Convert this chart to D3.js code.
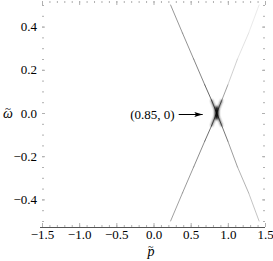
<!DOCTYPE html>
<html>
<head>
<meta charset="utf-8">
<script src="https://cdn.jsdelivr.net/npm/d3@7"></script>
<style>
  html, body { margin: 0; padding: 0; background: #fff; }
  svg { display: block; }
  text { font-family: "Liberation Serif", "Times New Roman", Times, serif; }
</style>
</head>
<body>
<div id="chart"></div>
<script>
// tick labels
var xTicks = [-1.5, -1.0, -0.5, 0.0, 0.5, 1.0, 1.5];
var yTicks = [-0.4, -0.2, 0.0, 0.2, 0.4];

// branches of the spectrum: [p, omega, weight]
var branchDown = [
  [0.23, 0.5, 0.5], [0.39, 0.37, 0.52], [0.54, 0.25, 0.55], [0.69, 0.13, 0.65],
  [0.78, 0.06, 0.85], [0.85, 0.0, 1.0], [0.92, -0.06, 0.8], [1.0, -0.13, 0.55],
  [1.13, -0.25, 0.42], [1.28, -0.37, 0.33], [1.42, -0.5, 0.25]
];
var branchUp = [
  [0.23, -0.5, 0.45], [0.39, -0.37, 0.48], [0.54, -0.25, 0.52], [0.69, -0.13, 0.62],
  [0.78, -0.06, 0.8], [0.85, 0.0, 1.0], [0.92, 0.06, 0.65], [1.0, 0.13, 0.3],
  [1.13, 0.25, 0.17], [1.28, 0.37, 0.12], [1.42, 0.5, 0.09]
];
var crossing = { p: 0.85, w: 0.0, label: "(0.85, 0)" };

var width = 273, height = 261;
var x = d3.scaleLinear().domain([-1.5, 1.5]).range([42, 265]);
var y = d3.scaleLinear().domain([-0.5, 0.5]).range([221, 5]);
var frameTop = 1, frameBottom = 227;
var serif = "'Liberation Serif', 'Times New Roman', Times, serif";

var svg = d3.select("#chart").append("svg")
  .attr("width", width)
  .attr("height", height);

var defs = svg.append("defs");
defs.append("filter").attr("id", "blur")
  .attr("x", "-100%").attr("y", "-100%").attr("width", "300%").attr("height", "300%")
  .append("feGaussianBlur").attr("stdDeviation", 0.9);
defs.append("marker").attr("id", "head")
  .attr("viewBox", "0 0 10 6").attr("refX", 10).attr("refY", 3)
  .attr("markerWidth", 9).attr("markerHeight", 5)
  .attr("markerUnits", "userSpaceOnUse").attr("orient", "auto")
  .append("path").attr("d", "M0,0L10,3L0,6L2,3Z").attr("fill", "#000");

// frame ticks
var fmt = d3.format(".1f");
var xMinor = d3.range(-15, 16).map(function(d) { return d / 10; });
var yMinor = d3.range(-10, 11).map(function(d) { return d / 20; });

function styleAxis(g) {
  g.attr("font-family", serif).attr("font-size", 13);
  g.select(".domain").remove();
  g.selectAll(".tick line").attr("stroke", "#b0b0b0");
  g.selectAll(".tick text").attr("fill", "#000")
    .style("font-family", serif).style("font-size", "13px");
}

svg.append("g").attr("transform", "translate(0," + frameBottom + ")")
  .call(d3.axisBottom(x).tickValues(xMinor).tickSize(-2).tickFormat(""))
  .call(styleAxis);
svg.append("g").attr("transform", "translate(0," + frameBottom + ")")
  .call(d3.axisBottom(x).tickValues(xTicks).tickSize(-4).tickPadding(3).tickFormat(fmt))
  .call(styleAxis);
svg.append("g").attr("transform", "translate(0," + frameTop + ")")
  .call(d3.axisTop(x).tickValues(xMinor).tickSize(-2).tickFormat(""))
  .call(styleAxis);
svg.append("g").attr("transform", "translate(0," + frameTop + ")")
  .call(d3.axisTop(x).tickValues(xTicks).tickSize(-4).tickFormat(""))
  .call(styleAxis);

svg.append("g").attr("transform", "translate(" + x(-1.5) + ",0)")
  .call(d3.axisLeft(y).tickValues(yMinor).tickSize(-2).tickFormat(""))
  .call(styleAxis);
svg.append("g").attr("transform", "translate(" + x(-1.5) + ",0)")
  .call(d3.axisLeft(y).tickValues(yTicks).tickSize(-3).tickPadding(5).tickFormat(fmt))
  .call(styleAxis);
svg.append("g").attr("transform", "translate(" + x(1.5) + ",0)")
  .call(d3.axisRight(y).tickValues(yMinor).tickSize(-2).tickFormat(""))
  .call(styleAxis);
svg.append("g").attr("transform", "translate(" + x(1.5) + ",0)")
  .call(d3.axisRight(y).tickValues(yTicks).tickSize(-3).tickFormat(""))
  .call(styleAxis);

// bottom frame line
svg.append("line")
  .attr("x1", x(-1.5) - 2).attr("x2", x(1.5))
  .attr("y1", frameBottom + 0.5).attr("y2", frameBottom + 0.5)
  .attr("stroke", "#555").attr("stroke-width", 1);

// spectral branches, each piece shaded by its weight
function pieces(branch) {
  return d3.pairs(branch).map(function(pr) {
    return { a: pr[0], b: pr[1], wt: (pr[0][2] + pr[1][2]) / 2 };
  });
}
var shade = d3.scaleLinear().domain([0, 1]).range(["#fff", "#000"]);

var plot = svg.append("g");
[branchDown, branchUp].forEach(function(branch) {
  plot.selectAll(null).data(pieces(branch)).enter().append("line")
    .attr("x1", function(d) { return x(d.a[0]); })
    .attr("y1", function(d) { return y(d.a[1]); })
    .attr("x2", function(d) { return x(d.b[0]); })
    .attr("y2", function(d) { return y(d.b[1]); })
    .attr("stroke", function(d) { return shade(d.wt); })
    .attr("stroke-width", 0.8)
    .attr("stroke-linecap", "round");
});

// broadened peak near the crossing
var core = plot.append("g").attr("filter", "url(#blur)");
[branchDown, branchUp].forEach(function(branch) {
  var near = branch.filter(function(d) { return Math.abs(d[1]) <= 0.06; });
  core.append("path")
    .attr("d", d3.line().x(function(d) { return x(d[0]); }).y(function(d) { return y(d[1]); })(near))
    .attr("fill", "none").attr("stroke", "#333").attr("stroke-width", 1.4);
});
core.append("ellipse")
  .attr("cx", x(crossing.p)).attr("cy", y(crossing.w))
  .attr("rx", 2.0).attr("ry", 7)
  .attr("fill", "#000");

// annotation
svg.append("line")
  .attr("x1", x(crossing.p) - 38).attr("y1", y(crossing.w) + 1.5)
  .attr("x2", x(crossing.p) - 14).attr("y2", y(crossing.w) + 1.5)
  .attr("stroke", "#000").attr("stroke-width", 1)
  .attr("marker-end", "url(#head)");
svg.append("text")
  .attr("x", x(crossing.p) - 42).attr("y", y(crossing.w) + 6)
  .attr("text-anchor", "end")
  .style("font-size", "13px")
  .text(crossing.label);

// axis titles: italic letter with a tilde set above it
function titled(left, base, letter, back, tildeSize) {
  var t = svg.append("text").attr("x", left).attr("y", base)
    .style("font-size", "14px").style("font-style", "italic");
  t.append("tspan").text(letter);
  t.append("tspan").attr("dx", back).attr("dy", -6)
    .style("font-size", tildeSize + "px").style("font-style", "normal")
    .text("~");
}
titled(147.5, 256, "p", -6.5, 10);
titled(3, y(0) + 5, "\u03c9", -8, 11);
</script>
</body>
</html>
